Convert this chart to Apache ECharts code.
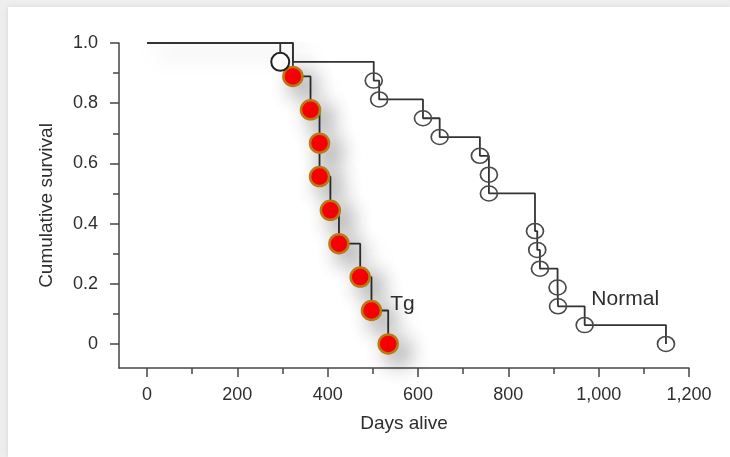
<!DOCTYPE html>
<html><head><meta charset="utf-8">
<script src="https://cdn.jsdelivr.net/npm/echarts@6/dist/echarts.min.js"></script>
<style>
html,body{margin:0;padding:0;background:#eeeeee;width:730px;height:457px;overflow:hidden}
#c{position:absolute;left:8px;top:7px;width:722px;height:450px;background:#fff;box-shadow:0 0 5px rgba(0,0,0,0.10)}
</style></head><body><div id="c"></div>
<script>
// ---- data ----
const xTickValues = [0, 200, 400, 600, 800, 1000, 1200];
const xMinorTicks = [100, 300, 500, 700, 900, 1100];
const yTickValues = [0, 0.2, 0.4, 0.6, 0.8, 1.0];
const yMinorTicks = [0.1, 0.3, 0.5, 0.7, 0.9];

const tgDays = [0, 323, 362, 382, 382, 406, 425, 472, 497, 534];
const tgSurv = [1, 0.889, 0.778, 0.667, 0.556, 0.444, 0.333, 0.222, 0.111, 0];

const normalDays = [0, 323, 502, 514, 611, 648, 737, 757, 757, 859, 864, 870, 909, 910, 969, 1149];
const normalSurv = [1, 0.9375, 0.875, 0.8125, 0.75, 0.6875, 0.625, 0.5625, 0.5, 0.375, 0.3125, 0.25, 0.1875, 0.125, 0.0625, 0];

const markDays = [295, 295];
const markSurv = [1, 0.9375];

const tgLabelIndex = 8;      // "Tg" label next to this point
const normalLabelIndex = 13; // "Normal" label next to this point

// ---- build ----
const FONT = '"Liberation Sans", Arial, sans-serif';
const TXT = '#2e2e2e';
const AX = '#454545';

function fmtX(v){ return v >= 1000 ? Math.floor(v/1000) + ',' + String(v % 1000).padStart(3,'0') : String(v); }
function fmtY(v){ return v === 0 ? '0' : v.toFixed(1); }

const tgData = tgDays.map((d,i)=>{
  const o = {value:[d, tgSurv[i]]};
  if (i === 0) o.symbol = 'none';
  if (i === tgLabelIndex) o.label = {show:true, formatter:'Tg', position:'right', distance:8, offset:[0,-6], color:TXT, fontSize:21, fontFamily:FONT};
  return o;
});
const normalData = normalDays.map((d,i)=>{
  const o = {value:[d, normalSurv[i]]};
  if (i <= 1) o.symbol = 'none';
  if (i === normalLabelIndex) o.label = {show:true, formatter:'Normal', position:'right', distance:24, offset:[0,-7], color:TXT, fontSize:21, fontFamily:FONT};
  return o;
});
const markData = markDays.map((d,i)=>{
  const o = {value:[d, markSurv[i]]};
  if (i === 0) o.symbol = 'none';
  return o;
});

const chart = echarts.init(document.getElementById('c'), null, {renderer:'canvas'});
chart.setOption({
  animation:false,
  backgroundColor:'#ffffff',
  grid:{left:111, top:36, right:41, bottom:89, containLabel:false},
  xAxis:[{
    type:'value', min:-62, max:1200, position:'bottom',
    name:'Days alive', nameLocation:'middle', nameGap:46,
    nameTextStyle:{color:TXT, fontSize:19, fontFamily:FONT},
    axisLine:{show:true, onZero:false, lineStyle:{color:AX, width:1.5}},
    axisTick:{show:true, length:9, customValues:xTickValues, lineStyle:{color:AX, width:1.5}},
    axisLabel:{show:true, customValues:xTickValues, formatter:fmtX, margin:18, color:TXT, fontSize:18, fontFamily:FONT},
    splitLine:{show:false}
  },{
    type:'value', min:-62, max:1200, position:'bottom',
    axisLine:{show:false, onZero:false},
    axisTick:{show:true, length:6, customValues:xMinorTicks, lineStyle:{color:AX, width:1.5}},
    axisLabel:{show:false, customValues:xMinorTicks},
    splitLine:{show:false}
  }],
  yAxis:[{
    type:'value', min:-0.08, max:1.0, position:'left',
    name:'Cumulative survival', nameLocation:'middle', nameGap:63, nameRotate:90,
    nameTextStyle:{color:TXT, fontSize:19, fontFamily:FONT},
    axisLine:{show:true, onZero:false, lineStyle:{color:AX, width:1.5}},
    axisTick:{show:true, length:9, customValues:yTickValues, lineStyle:{color:AX, width:1.5}},
    axisLabel:{show:true, customValues:yTickValues, formatter:fmtY, margin:21, color:TXT, fontSize:18, fontFamily:FONT},
    splitLine:{show:false}
  },{
    type:'value', min:-0.08, max:1.0, position:'left',
    axisLine:{show:false, onZero:false},
    axisTick:{show:true, length:6, customValues:yMinorTicks, lineStyle:{color:AX, width:1.5}},
    axisLabel:{show:false, customValues:yMinorTicks},
    splitLine:{show:false}
  }],
  series:[{
    name:'Normal', type:'line', step:'end', xAxisIndex:0, yAxisIndex:0,
    data:normalData, showAllSymbol:true,
    symbol:'circle', symbolSize:[17,15],
    lineStyle:{color:'#333', width:1.8},
    itemStyle:{color:'rgba(255,255,255,0)', borderColor:'#4a4a4a', borderWidth:1.6},
    z:2
  },{
    name:'Tg', type:'line', step:'end', xAxisIndex:0, yAxisIndex:0,
    data:tgData, showAllSymbol:true,
    symbol:'circle', symbolSize:19,
    lineStyle:{color:'#333', width:1.8, shadowBlur:22, shadowColor:'rgba(0,0,0,0.35)', shadowOffsetX:10, shadowOffsetY:9},
    itemStyle:{color:'#ff0000', borderColor:'#b87a12', borderWidth:2.5, shadowBlur:22, shadowColor:'rgba(0,0,0,0.45)', shadowOffsetX:10, shadowOffsetY:9},
    z:3
  },{
    name:'mark', type:'line', xAxisIndex:0, yAxisIndex:0,
    data:markData, showAllSymbol:true,
    symbol:'circle', symbolSize:18,
    lineStyle:{color:'#333', width:1.8},
    itemStyle:{color:'#ffffff', borderColor:'#222', borderWidth:2},
    z:4
  }]
});
</script></body></html>
